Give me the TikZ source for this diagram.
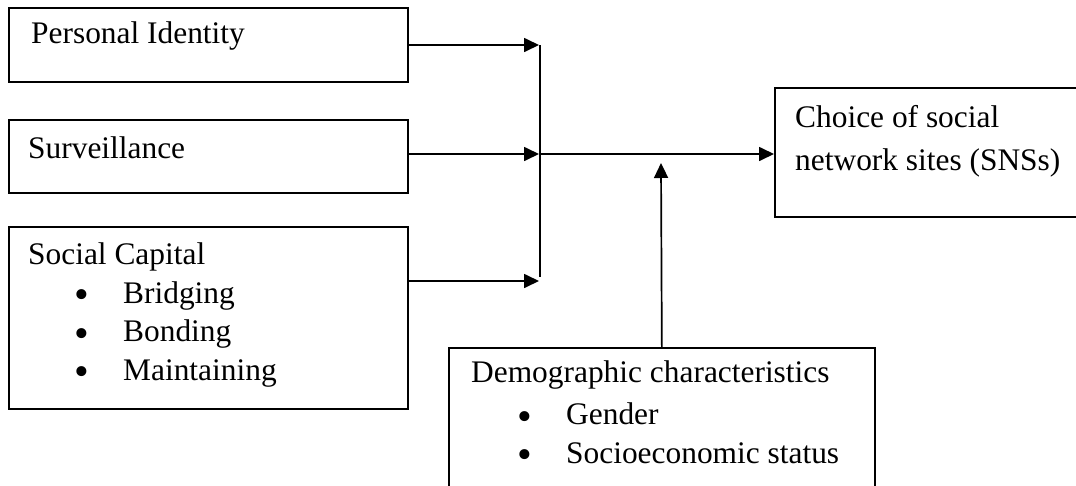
\documentclass[tikz,border=0pt]{standalone}
\usepackage{fontspec}
\setmainfont{Liberation Serif}
\usetikzlibrary{arrows.meta}
\newcommand{\itm}[2][0pt]{\\[#1]\hspace*{46pt}\makebox[49pt][l]{\raisebox{-5.5pt}{\fontsize{42}{42}\selectfont\textbullet}}#2}
\begin{document}
\begin{tikzpicture}[x=1pt,y=-1pt,
    mBox/.style={rectangle,draw=black,line width=1.7pt,anchor=north west,inner sep=0pt},
    mTxt/.style={anchor=base west,align=left,inner sep=0pt,font=\fontsize{31.4}{38.5}\selectfont},
    mArr/.style={-{Triangle[length=15pt,width=14pt]},line width=1.7pt},
]
\useasboundingbox (0,0) rectangle (1076,485);
\node[mBox,minimum width=399pt,minimum height=74pt] (pid) at (8,7) {};
\node[mBox,minimum width=399pt,minimum height=73pt] (sur) at (8,119) {};
\node[mBox,minimum width=399pt,minimum height=182pt] (soc) at (8,226) {};
\node[mBox,minimum width=320pt,minimum height=129pt] (choice) at (774,87) {};
\node[mBox,minimum width=426pt,minimum height=160pt] (demo) at (448,347) {};
% text, placed by the baseline of the last line
\node[mTxt] (pidT) at (31,43) {Personal Identity};
\node[mTxt] (surT) at (28,158) {Surveillance};
\node[mTxt] (socT) at (28,380) {Social Capital\itm{Bridging}\itm{Bonding}\itm{Maintaining}};
\node[mTxt] (choiceT) at (795,170) {Choice of social\\[4.5pt]network sites (SNSs)};
\node[mTxt] (demoT) at (471,463) {Demographic characteristics\itm[3.5pt]{Gender}\itm{Socioeconomic status}};
% junction
\coordinate (jTop) at (540,45);
\coordinate (jMid) at (540,154);
\coordinate (jBot) at (540,281);
\coordinate (jEnd) at (540,277);
\coordinate (upTip) at (661,163);
\draw[mArr] (pid.east |- jTop) -- ([xshift=-1pt]jTop);
\draw[mArr] (sur.east |- jMid) -- ([xshift=-1pt]jMid);
\draw[mArr] (soc.east |- jBot) -- ([xshift=-1pt]jBot);
\draw[line width=1.7pt] (jTop) -- (jEnd);
\draw[mArr] (jMid) -- (choice.west |- jMid);
\draw[mArr] (demo.north) -- (upTip);
\end{tikzpicture}
\end{document}
